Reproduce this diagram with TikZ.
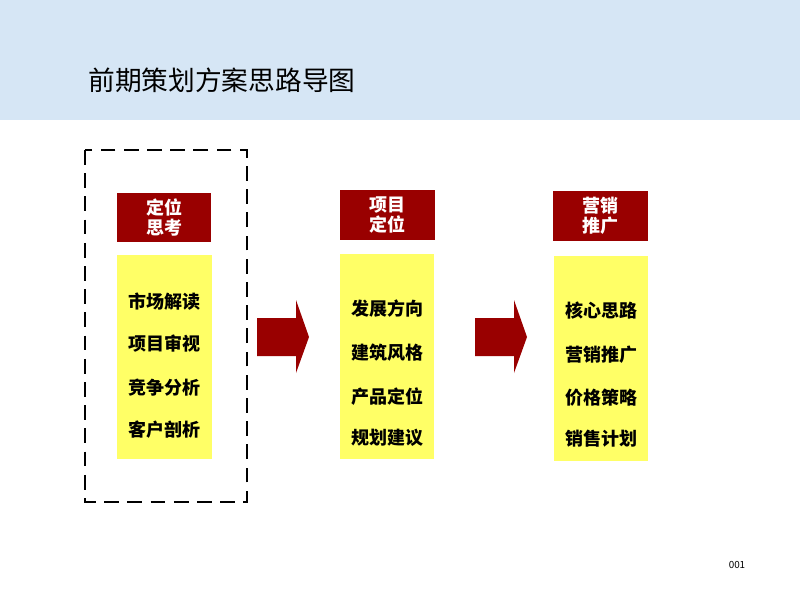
\documentclass[tikz,border=0pt]{standalone}
\usepackage{fontspec}
\newfontfamily\cjk{Noto Sans CJK SC}
\usetikzlibrary{positioning}

\definecolor{bandblue}{RGB}{214,230,245}
\definecolor{darkred}{RGB}{153,0,0}
\definecolor{padyellow}{RGB}{255,255,102}

\tikzset{
  headbox/.style={fill=darkred, text=white, minimum width=2.36cm, minimum height=1.24cm,
    inner sep=0pt, align=center, font=\cjk\bfseries\fontsize{12.8}{14.5}\selectfont},
  padbox/.style={fill=padyellow, minimum width=2.36cm, minimum height=5.12cm, inner sep=0pt},
  item/.style={font=\cjk\bfseries\fontsize{12.8}{15}\selectfont},
  blockarrow/.style={fill=darkred}
}

\begin{document}
\begin{tikzpicture}[x=0.025cm, y=-0.025cm]
        \useasboundingbox (0, 0) rectangle (800, 600);

        % Draw the title band
        \fill[bandblue] (0, 0) rectangle (800, 120);
        \node[anchor=west, inner sep=0pt, font=\cjk\fontsize{19}{22}\selectfont] (title) at (88, 80) {前期策划方案思路导图};

        % Draw the first column
        \draw[line width=2.1pt, dash pattern=on 10.5pt off 6pt] (85, 150) rectangle (247, 502);
        \node[headbox] (headA) at (164, 217.5) {定位\\思考};
        \node[padbox] (padA) at (164.5, 357) {};
        \node[item] (itemA1) at (164.5, 302) {市场解读};
        \node[item] (itemA2) at (164.5, 344) {项目审视};
        \node[item] (itemA3) at (164.5, 388) {竞争分析};
        \node[item] (itemA4) at (164.5, 430) {客户剖析};

        % Draw the first arrow
        \fill[blockarrow] (257, 318) -- (296, 318) -- (296, 300) -- (309, 337)
            -- (296, 373) -- (296, 356) -- (257, 356) -- cycle;

        % Draw the second column
        \node[headbox] (headB) at (387.5, 215) {项目\\定位};
        \node[padbox] (padB) at (387, 356.5) {};
        \node[item] (itemB1) at (387, 309) {发展方向};
        \node[item] (itemB2) at (387, 353) {建筑风格};
        \node[item] (itemB3) at (387, 397) {产品定位};
        \node[item] (itemB4) at (387, 438) {规划建议};

        % Draw the second arrow
        \fill[blockarrow] (475, 318) -- (514, 318) -- (514, 300) -- (527, 337)
            -- (514, 373) -- (514, 356) -- (475, 356) -- cycle;

        % Draw the third column
        \node[headbox] (headC) at (600.5, 216) {营销\\推广};
        \node[padbox] (padC) at (601, 358.5) {};
        \node[item] (itemC1) at (601, 311) {核心思路};
        \node[item] (itemC2) at (601, 355) {营销推广};
        \node[item] (itemC3) at (601, 398) {价格策略};
        \node[item] (itemC4) at (601, 439) {销售计划};

        % Page number
        \node[font=\cjk\fontsize{7}{8}\selectfont] (pagenum) at (737, 565) {001};
\end{tikzpicture}
\end{document}
